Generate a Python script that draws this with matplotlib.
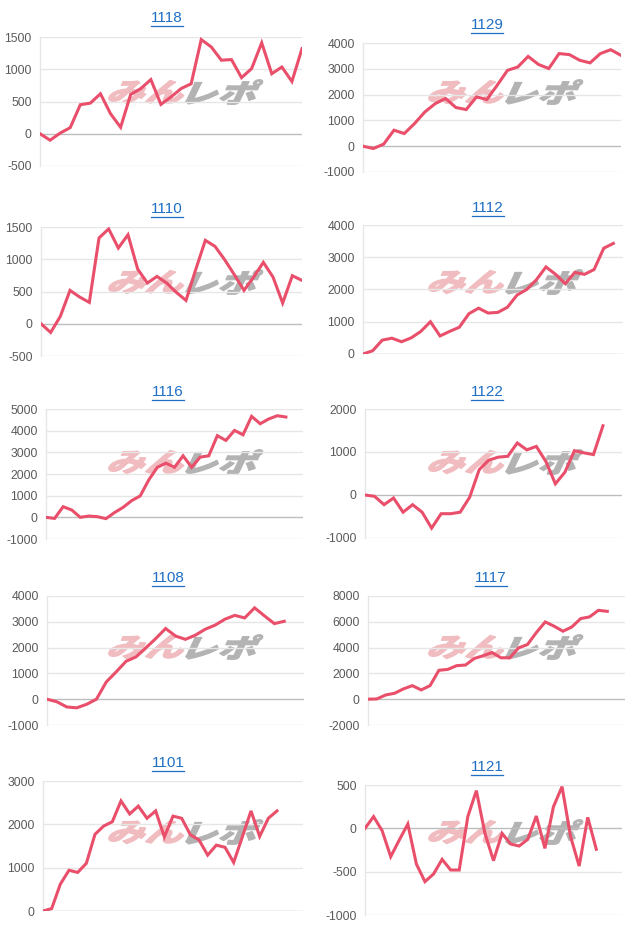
import numpy as np
import matplotlib.pyplot as plt
from matplotlib.textpath import TextPath
from matplotlib.patches import PathPatch
from matplotlib.font_manager import FontProperties
from matplotlib.transforms import Affine2D

W, H = 640, 931

# values per chart
s1118 = [0, -100, 10, 95, 450, 475, 620, 310, 100, 610, 700, 840, 455, 570, 700, 775,
         1460, 1345, 1140, 1150, 870, 1010, 1410, 930, 1035, 810, 1320]
s1129 = [0, -90, 80, 620, 490, 880, 1330, 1650, 1850, 1500, 1420, 1910, 1810, 2360, 2940,
         3070, 3480, 3170, 3010, 3590, 3550, 3330, 3230, 3590, 3740, 3520]
s1110 = [0, -135, 115, 517, 414, 331, 1330, 1470, 1174, 1380, 848, 631, 734, 631, 486, 362,
         838, 1293, 1200, 993, 760, 517, 724, 952, 724, 321, 745, 672]
s1112 = [0, 100, 430, 490, 380, 500, 700, 1000, 560, 700, 830, 1250, 1420, 1270, 1290, 1450,
         1830, 2000, 2300, 2700, 2470, 2180, 2530, 2470, 2620, 3280, 3430]
s1116 = [0, -50, 490, 340, 0, 60, 30, -60, 220, 460, 770, 990, 1730, 2310, 2500, 2310, 2840,
         2310, 2780, 2840, 3770, 3550, 4010, 3810, 4660, 4320, 4540, 4690, 4630]
s1122 = [0, -30, -225, -70, -400, -225, -400, -770, -435, -435, -400, -50, 590, 810, 880, 900,
         1210, 1050, 1130, 780, 260, 530, 1030, 980, 940, 1610]
s1108 = [0, -100, -300, -335, -200, 0, 670, 1060, 1470, 1640, 1990, 2350, 2740, 2450, 2320,
         2480, 2710, 2870, 3100, 3250, 3150, 3540, 3230, 2930, 3020]
s1117 = [0, 20, 330, 460, 800, 1050, 720, 1050, 2240, 2310, 2600, 2650, 3160, 3370, 3620, 3210,
         3210, 3980, 4240, 5170, 5990, 5660, 5270, 5600, 6250, 6380, 6890, 6810]
s1101 = [0, 55, 620, 940, 890, 1100, 1770, 1960, 2060, 2540, 2240, 2420, 2140, 2310, 1710, 2190,
         2140, 1760, 1640, 1290, 1520, 1470, 1120, 1710, 2310, 1720, 2140, 2310]
s1121 = [0, 135, -27, -327, -135, 50, -412, -615, -527, -358, -481, -481, 135, 435, -58, -373,
         -58, -181, -204, -127, 142, -231, 250, 481, -96, -435, 127, -242]

titles = ['1118', '1129', '1110', '1112', '1116', '1122', '1108', '1117', '1101', '1121']
series = [s1118, s1129, s1110, s1112, s1116, s1122, s1108, s1117, s1101, s1121]
n_days = [27, 26, 28, 28, 31, 28, 27, 30, 31, 31]
yticks = [
    [-500, 0, 500, 1000, 1500],
    [-1000, 0, 1000, 2000, 3000, 4000],
    [-500, 0, 500, 1000, 1500],
    [0, 1000, 2000, 3000, 4000],
    [-1000, 0, 1000, 2000, 3000, 4000, 5000],
    [-1000, 0, 1000, 2000],
    [-1000, 0, 1000, 2000, 3000, 4000],
    [-2000, 0, 2000, 4000, 6000, 8000],
    [0, 1000, 2000, 3000],
    [-1000, -500, 0, 500],
]

# plot boxes in pixels: left, top, right, bottom ; title centre
boxes = [
    (40, 37, 302, 166), (363, 43, 621, 172),
    (41, 227, 302, 356), (363, 225, 623, 354),
    (46, 409, 303, 539), (365, 409, 622, 538),
    (47, 596, 304, 725), (368, 596, 625, 725),
    (43, 781, 303, 911), (365, 785, 622, 915),
]
title_pos = [(167, 18), (487, 25), (167, 209), (488, 208), (168, 392),
             (487, 392), (168, 578), (491, 578), (168, 763), (487, 767)]
row_top = [0, 190, 370, 555, 740]

LINE = '#e94f6b'
GRID = '#e6e6e6'
BASE = '#bdbdbd'
TICK = '#5a5a5a'
LINK = '#1f6fc5'

fig = plt.figure(figsize=(W / 100, H / 100), dpi=100)
fig.patch.set_facecolor('white')

wm_font = FontProperties(family='Noto Sans CJK JP', weight='black')


def watermark(cx, cy):
    # "みん" pink + "レポ" grey, slanted
    for txt, col, right in (('みん', '#f0bcc0', True), ('レポ', '#b3b3b3', False)):
        tp = TextPath((0, 0), txt, size=32, prop=wm_font)
        ext = tp.get_extents()
        sx, sy = 1.2, 0.82
        x0 = cx - ext.x1 * sx - 2 if right else cx - ext.x0 * sx + 2
        y0 = H - cy - (ext.y0 + ext.y1) / 2 * sy
        tr = Affine2D().skew_deg(18, 0).scale(sx, sy).translate(x0, y0) \
            .scale(1 / W, 1 / H) + fig.transFigure
        fig.patches.append(PathPatch(tp, transform=tr, facecolor=col,
                                     edgecolor=col, lw=0.8, zorder=-5))


for i in range(10):
    l, t, r, b = boxes[i]
    ax = fig.add_axes([l / W, 1 - b / H, (r - l) / W, (b - t) / H])
    ax.set_facecolor('none')
    ticks = yticks[i]
    vals = series[i]
    ax.plot(np.arange(len(vals)), vals, color=LINE, lw=2.2, solid_joinstyle='miter',
            zorder=3)
    ax.set_xlim(0, n_days[i] - 1)
    ax.set_ylim(ticks[0], ticks[-1])
    ax.set_yticks(ticks)
    ax.set_yticklabels([str(v) for v in ticks], fontsize=8.8, color=TICK,
                       family='Liberation Sans')
    ax.set_xticks([])
    ax.tick_params(axis='y', length=0, pad=6)
    for v in ticks:
        ax.axhline(v, color=BASE if v == 0 else GRID, lw=1, zorder=1)
    for s in ('top', 'right', 'bottom'):
        ax.spines[s].set_visible(False)
    ax.spines['left'].set_color(GRID)
    ax.spines['left'].set_linewidth(1)

    tx, ty = title_pos[i]
    tt = fig.text(tx / W, 1 - ty / H, titles[i], ha='center', va='center',
                  fontsize=11, color=LINK, family='Liberation Sans')
    # underline
    fig.canvas.draw()
    bb = tt.get_window_extent()
    fig.add_artist(plt.Line2D([bb.x0 / W, bb.x1 / W],
                              [(bb.y0 - 0.5) / H, (bb.y0 - 0.5) / H],
                              color=LINK, lw=0.9))

    col = i % 2
    row = i // 2
    watermark(col * 320 + 183, row_top[row] + 92)

fig.savefig('out.png', dpi=100)
